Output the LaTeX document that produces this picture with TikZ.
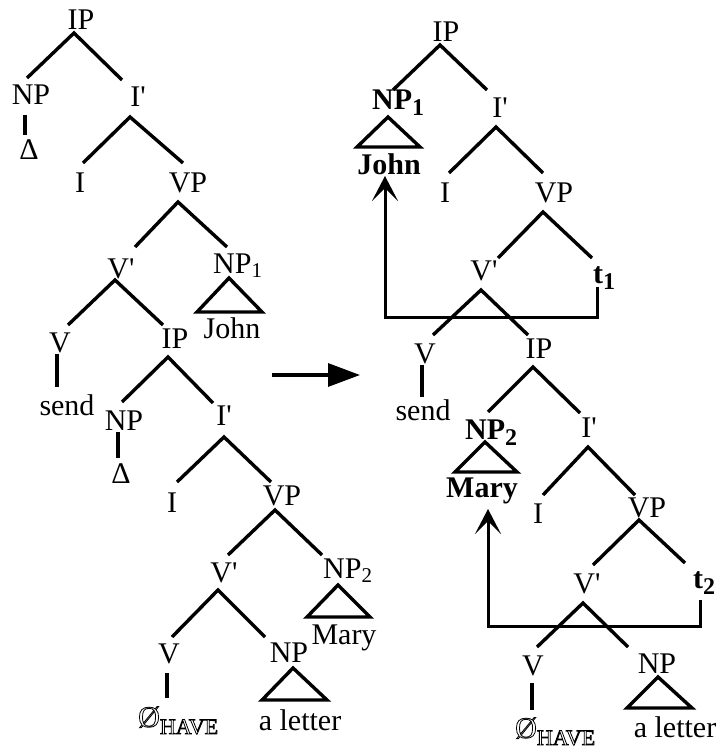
\documentclass[tikz,border=0pt]{standalone}
\usepackage{fontspec}
\usepackage{amssymb}
\setmainfont{Liberation Serif}
\usetikzlibrary{arrows.meta}
\newcommand\rsub[1]{\raisebox{-4pt}{\fontsize{21}{21}\selectfont #1}}
\newcommand\bsub[1]{\raisebox{-6pt}{\fontsize{24}{24}\selectfont\bfseries #1}}
\newcommand\outl[1]{\special{pdf:literal direct 1 Tr 0.8 w}#1\special{pdf:literal direct 0 Tr}}
\newcommand\zhave{\outl{\O}\raisebox{-7pt}{\fontsize{22}{22}\selectfont\outl{HAVE}}}
\newcommand\pr{\textquotesingle}
\begin{document}
\begin{tikzpicture}[x=1pt,y=-1pt,
  lab/.style={inner sep=0pt,anchor=base,font=\fontsize{30}{36}\selectfont},
  labw/.style={lab,anchor=base west},
  bld/.style={lab,font=\fontsize{30}{36}\selectfont\bfseries},
  bldw/.style={bld,anchor=base west},
  br/.style={line width=3.4pt},
  mv/.style={line width=3pt,-{Stealth[length=25pt,width=26pt,inset=13pt]}},
  bigarrow/.style={line width=3.2pt,-{Triangle[length=32pt,width=23pt]}}]
\useasboundingbox (0,0) rectangle (722,751);

% ---------------- left tree: text nodes
\node[lab] (LIP) at (81,30) {IP};
\node[lab] (LNP) at (31,105) {NP};
\node[lab] (LD) at (29,160) {Δ};
\node[lab] (LI1) at (138,107) {I\pr};
\node[lab] (LI) at (80,193) {I};
\node[lab] (LVP) at (188,193) {VP};
\node[lab] (LV1) at (121,278) {V\pr};
\node[labw] (LNP1) at (213,273) {NP\rsub{1}};
\node[lab] (LJohn) at (232,338) {John};
\node[lab] (LV) at (60,352) {V};
\node[lab] (LIP2) at (175,348) {IP};
\node[lab] (Lsend) at (67,415) {send};
\node[lab] (LNPb) at (124,430) {NP};
\node[lab] (LD2) at (121,483) {Δ};
\node[lab] (LI1b) at (224,425) {I\pr};
\node[lab] (LIb) at (172,512) {I};
\node[lab] (LVPb) at (282,505) {VP};
\node[lab] (LV1b) at (224,582) {V\pr};
\node[labw] (LNP2) at (323,578) {NP\rsub{2}};
\node[lab] (LMary) at (344,644) {Mary};
\node[lab] (LVc) at (169,663) {V};
\node[lab] (LNPc) at (289,662) {NP};
\node[labw] (LO) at (138,727) {\zhave};
\node[lab] (Llet) at (300,730) {a letter};

% left tree: branch points
\coordinate (LIP-b) at (74,33);
\coordinate (LNP-t) at (27,78);   \coordinate (LNP-b) at (25,115);  \coordinate (LD-t) at (25,135);
\coordinate (LI1-t) at (122,80);  \coordinate (LI1-b) at (130,117);
\coordinate (LI-t) at (83,163);
\coordinate (LVP-t) at (183,163); \coordinate (LVP-b) at (178,202);
\coordinate (LV1-t) at (135,247); \coordinate (LV1-b) at (115,280);
\coordinate (LNP1-t) at (227,247); \coordinate (LNP1-a) at (229,278);
\coordinate (LV-t) at (68,325);   \coordinate (LV-b) at (57,354);  \coordinate (Lsend-t) at (57,387);
\coordinate (LIP2-t) at (163,325); \coordinate (LIP2-b) at (168,357);
\coordinate (LNPb-t) at (122,402); \coordinate (LNPb-b) at (118,432); \coordinate (LD2-t) at (118,458);
\coordinate (LI1b-t) at (213,403); \coordinate (LI1b-b) at (224,437);
\coordinate (LIb-t) at (177,482);
\coordinate (LVPb-t) at (271,482); \coordinate (LVPb-b) at (275,510);
\coordinate (LV1b-t) at (228,555); \coordinate (LV1b-b) at (218,590);
\coordinate (LNP2-t) at (322,555); \coordinate (LNP2-a) at (338,585);
\coordinate (LVc-t) at (172,637); \coordinate (LVc-b) at (167,673); \coordinate (LO-t) at (167,698);
\coordinate (LNPc-t) at (265,637); \coordinate (LNPc-a) at (293,668);

\draw[br] (LNP-t) -- (LIP-b) -- (LI1-t);
\draw[br] (LNP-b) -- (LD-t);
\draw[br] (LI-t) -- (LI1-b) -- (LVP-t);
\draw[br] (LV1-t) -- (LVP-b) -- (LNP1-t);
\draw[br] (LNP1-a) -- ++(-32,34) -- ++(65,0) -- cycle;
\draw[br] (LV-t) -- (LV1-b) -- (LIP2-t);
\draw[br] (LV-b) -- (Lsend-t);
\draw[br] (LNPb-t) -- (LIP2-b) -- (LI1b-t);
\draw[br] (LNPb-b) -- (LD2-t);
\draw[br] (LIb-t) -- (LI1b-b) -- (LVPb-t);
\draw[br] (LV1b-t) -- (LVPb-b) -- (LNP2-t);
\draw[br] (LNP2-a) -- ++(-31,32) -- ++(63,0) -- cycle;
\draw[br] (LVc-t) -- (LV1b-b) -- (LNPc-t);
\draw[br] (LVc-b) -- (LO-t);
\draw[br] (LNPc-a) -- ++(-31,32) -- ++(65,0) -- cycle;

% ---------------- main arrow
\coordinate (A1) at (272,375);
\coordinate (A2) at (360,375);
\draw[bigarrow] (A1) -- (A2);

% ---------------- right tree: text nodes
\node[lab] (RIP) at (446,42) {IP};
\node[bldw] (RNP1) at (372,110) {NP\bsub{1}};
\node[bld] (RJohn) at (389,175) {John};
\node[lab] (RI1) at (500,118) {I\pr};
\node[lab] (RI) at (445,203) {I};
\node[lab] (RVP) at (554,203) {VP};
\node[lab] (RV1) at (484,280) {V\pr};
\node[bldw] (Rt1) at (593,283) {t\bsub{1}};
\node[lab] (RV) at (425,363) {V};
\node[lab] (RIP2) at (539,358) {IP};
\node[lab] (Rsend) at (423,420) {send};
\node[bldw] (RNP2) at (465,439) {NP\bsub{2}};
\node[bld] (RMary) at (482,497) {Mary};
\node[lab] (RI1b) at (589,437) {I\pr};
\node[lab] (RIb) at (538,523) {I};
\node[lab] (RVPb) at (647,517) {VP};
\node[lab] (RV1b) at (587,593) {V\pr};
\node[bldw] (Rt2) at (693,588) {t\bsub{2}};
\node[lab] (RVc) at (533,675) {V};
\node[lab] (RNPc) at (657,673) {NP};
\node[labw] (RO) at (515,738) {\zhave};
\node[lab] (Rlet) at (675,737) {a letter};

% right tree: branch points
\coordinate (RIP-b) at (440,45);
\coordinate (RNP1-t) at (393,90); \coordinate (RNP1-a) at (388,117);
\coordinate (RI1-t) at (487,90);  \coordinate (RI1-b) at (496,127);
\coordinate (RI-t) at (449,173);
\coordinate (RVP-t) at (543,173); \coordinate (RVP-b) at (543,212);
\coordinate (RV1-t) at (498,258); \coordinate (RV1-b) at (481,290);
\coordinate (Rt1-t) at (592,258); \coordinate (Rt1-b) at (597,287);
\coordinate (RV-t) at (433,335);  \coordinate (RV-b) at (422,365); \coordinate (Rsend-t) at (422,397);
\coordinate (RIP2-t) at (528,335); \coordinate (RIP2-b) at (533,367);
\coordinate (RNP2-t) at (488,412); \coordinate (RNP2-a) at (485,442);
\coordinate (RI1b-t) at (580,413); \coordinate (RI1b-b) at (588,447);
\coordinate (RIb-t) at (543,495);
\coordinate (RVPb-t) at (635,495); \coordinate (RVPb-b) at (639,520);
\coordinate (RV1b-t) at (593,565); \coordinate (RV1b-b) at (583,603);
\coordinate (Rt2-t) at (685,563); \coordinate (Rt2-b) at (700,600);
\coordinate (RVc-t) at (537,647); \coordinate (RVc-b) at (532,683); \coordinate (RO-t) at (532,710);
\coordinate (RNPc-t) at (628,647); \coordinate (RNPc-a) at (658,677);

\draw[br] (RNP1-t) -- (RIP-b) -- (RI1-t);
\draw[br] (RNP1-a) -- ++(-31,30) -- ++(63,0) -- cycle;
\draw[br] (RI-t) -- (RI1-b) -- (RVP-t);
\draw[br] (RV1-t) -- (RVP-b) -- (Rt1-t);
\draw[br] (RV-t) -- (RV1-b) -- (RIP2-t);
\draw[br] (RV-b) -- (Rsend-t);
\draw[br] (RNP2-t) -- (RIP2-b) -- (RI1b-t);
\draw[br] (RNP2-a) -- ++(-30,30) -- ++(62,0) -- cycle;
\draw[br] (RIb-t) -- (RI1b-b) -- (RVPb-t);
\draw[br] (RV1b-t) -- (RVPb-b) -- (Rt2-t);
\draw[br] (RVc-t) -- (RV1b-b) -- (RNPc-t);
\draw[br] (RVc-b) -- (RO-t);
\draw[br] (RNPc-a) -- ++(-31,31) -- ++(65,0) -- cycle;

% movement arrows
\coordinate (M1a) at (597,317); \coordinate (M1b) at (385,317); \coordinate (M1c) at (385,176);
\draw[mv] (Rt1-b) -- (M1a) -- (M1b) -- (M1c);
\coordinate (M2a) at (700,626); \coordinate (M2b) at (488,626); \coordinate (M2c) at (488,509);
\draw[mv] (Rt2-b) -- (M2a) -- (M2b) -- (M2c);
\end{tikzpicture}
\end{document}
